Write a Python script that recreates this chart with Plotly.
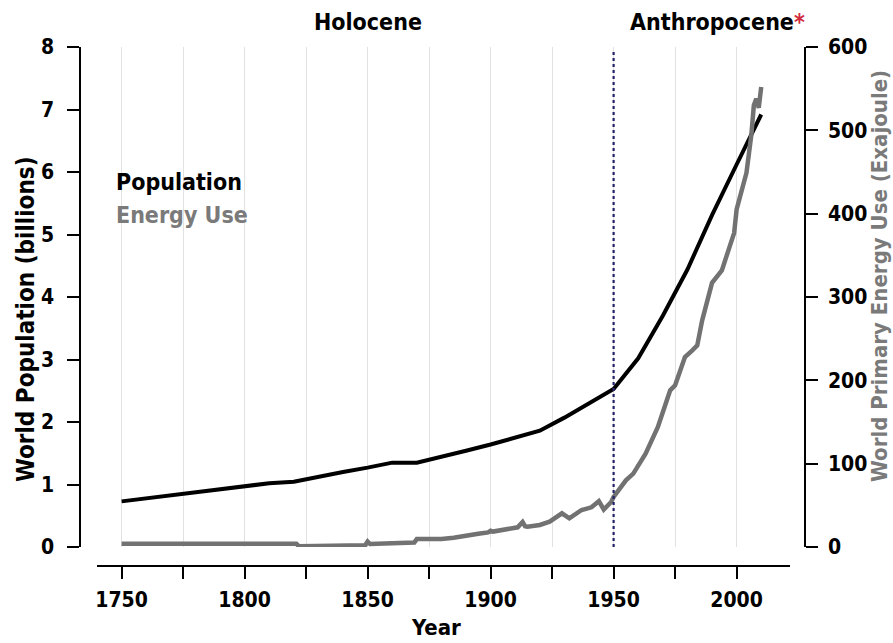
import plotly.graph_objects as go

# ---- data ----
pop_years = [1750, 1775, 1800, 1810, 1820, 1830, 1840, 1850, 1860, 1870, 1880, 1890,
             1900, 1910, 1920, 1930, 1940, 1950, 1960, 1970, 1980, 1990, 2000, 2010]
pop_billions = [0.73, 0.85, 0.96, 1.02, 1.045, 1.13, 1.2, 1.27, 1.35, 1.35, 1.44, 1.54,
                1.64, 1.75, 1.86, 2.07, 2.3, 2.53, 3.02, 3.7, 4.44, 5.31, 6.12, 6.92]

energy_years = [1750, 1780, 1800, 1820, 1821, 1822, 1830, 1840, 1849, 1850, 1851, 1860,
                1869, 1870, 1875, 1880, 1885, 1889, 1890, 1891, 1895, 1899, 1900, 1901,
                1906, 1911, 1913, 1914, 1915, 1920, 1924, 1929, 1932, 1937, 1941, 1944,
                1946, 1949, 1950, 1952, 1955, 1958, 1963, 1968, 1973, 1975, 1979, 1982,
                1984, 1986, 1990, 1994, 1999, 2000, 2004, 2006, 2007, 2008, 2009, 2010]
energy_ej = [4, 4, 4, 4, 4, 1, 1.2, 1.6, 2.0, 6.5, 3.5, 4.5,
             5.5, 9.5, 9, 9.5, 11, 13, 14.5, 14, 16, 17.5, 19.5, 18.5,
             21, 23.6, 30, 25, 24.4, 26.4, 30.4, 40.4, 34.4, 44.4, 47.6, 55,
             45, 54, 60, 68, 80, 88, 112, 144, 188, 194, 228, 236,
             242, 272, 317, 332, 377, 405, 449, 495, 530, 538, 527, 552]

x_tick_vals = [1750, 1800, 1850, 1900, 1950, 2000]
left_ticks = [0, 1, 2, 3, 4, 5, 6, 7, 8]
right_ticks = [0, 100, 200, 300, 400, 500, 600]
boundary_year = 1950

FONT = "DejaVu Sans Condensed, Liberation Sans Narrow, sans-serif"
BLACK = "#000000"
GREY = "#727272"
GRID = "#e2e2e2"

fig = go.Figure()
fig.add_trace(go.Scatter(x=pop_years, y=pop_billions, mode="lines",
                         line=dict(color=BLACK, width=4), yaxis="y", showlegend=False))
fig.add_trace(go.Scatter(x=energy_years, y=energy_ej, mode="lines",
                         line=dict(color=GREY, width=4.5), yaxis="y2", showlegend=False))

W, H = 893, 643
ml, mr, mt, mb = 80, 88, 47, 77
pw, ph = W - ml - mr, H - mt - mb


def px_x(p):
    return (p - ml) / pw


def px_y(p):
    return (H - mb - p) / ph


tick_font = dict(family=FONT, size=21, color=BLACK, weight="bold")

fig.update_layout(
    width=W, height=H,
    margin=dict(l=ml, r=mr, t=mt, b=mb, pad=0),
    paper_bgcolor="white", plot_bgcolor="white",
    font=dict(family=FONT, size=20, color=BLACK),
    xaxis=dict(
        domain=[px_x(97), px_x(790)], range=[1740, 2021.7],
        anchor="free", position=0,
        tickvals=x_tick_vals, ticks="outside", ticklen=12, tickwidth=1.5, tickcolor=BLACK,
        showline=True, linecolor=BLACK, linewidth=1.5,
        showgrid=True, gridcolor=GRID, gridwidth=1,
        minor=dict(dtick=25, tick0=1750, ticks="outside", ticklen=12, tickwidth=1.5,
                   tickcolor=BLACK, showgrid=True, gridcolor=GRID, gridwidth=1),
        tickfont=tick_font, ticklabelstandoff=3, zeroline=False,
    ),
    yaxis=dict(
        domain=[px_y(547), 1], range=[0, 8], anchor="free", position=0,
        tickvals=left_ticks, ticks="outside", ticklen=12, tickwidth=1.5, tickcolor=BLACK,
        showline=True, linecolor=BLACK, linewidth=1.5, showgrid=False, zeroline=False,
        tickfont=tick_font, ticklabelstandoff=9,
    ),
    yaxis2=dict(
        domain=[px_y(547), 1], range=[0, 600], anchor="free", position=1,
        overlaying="y", side="right",
        tickvals=right_ticks, ticks="outside", ticklen=12, tickwidth=1.5, tickcolor=BLACK,
        showline=True, linecolor=BLACK, linewidth=1.5, showgrid=False, zeroline=False,
        tickfont=tick_font, ticklabelstandoff=6,
    ),
)

# boundary between epochs
fig.add_shape(type="line", x0=boundary_year, x1=boundary_year, xref="x",
              y0=px_y(547), y1=px_y(49), yref="paper",
              line=dict(color="#23236a", width=2.2, dash="dot"))

# white box behind the legend text (hides gridlines)
fig.add_shape(type="rect", xref="paper", yref="paper",
              x0=px_x(100), x1=px_x(241), y0=px_y(240), y1=px_y(153),
              fillcolor="white", line=dict(width=0), layer="between")

ann_font = dict(family=FONT, size=23, weight="bold")
fig.add_annotation(text="Population", xref="paper", yref="paper", x=px_x(114), y=px_y(182),
                   xanchor="left", yanchor="middle", showarrow=False,
                   font=dict(ann_font, color=BLACK))
fig.add_annotation(text="Energy Use", xref="paper", yref="paper", x=px_x(114), y=px_y(215),
                   xanchor="left", yanchor="middle", showarrow=False,
                   font=dict(ann_font, color="#7a7a7a"))

# epoch titles
fig.add_annotation(text="Holocene", xref="x", yref="paper", x=1850, y=px_y(22),
                   xanchor="center", yanchor="middle", showarrow=False,
                   font=dict(family=FONT, size=23, weight="bold", color=BLACK))
fig.add_annotation(text="Anthropocene<span style='color:#d2283c'>*</span>", xref="paper",
                   yref="paper", x=px_x(628), y=px_y(22),
                   xanchor="left", yanchor="middle", showarrow=False,
                   font=dict(family=FONT, size=23, weight="bold", color=BLACK))

# axis titles
fig.add_annotation(text="World Population (billions)", xref="paper", yref="paper",
                   x=px_x(26), y=px_y(484), textangle=-90, showarrow=False,
                   xanchor="center", yanchor="bottom",
                   font=dict(family=FONT, size=24, weight="bold", color=BLACK))
fig.add_annotation(text="World Primary Energy Use (Exajoule)", xref="paper", yref="paper",
                   x=px_x(879), y=px_y(484), textangle=-90, showarrow=False,
                   xanchor="center", yanchor="bottom",
                   font=dict(family=FONT, size=22, weight="bold", color="#7a7a7a"))
fig.add_annotation(text="Year", xref="paper", yref="paper",
                   x=px_x(436), y=px_y(627), showarrow=False,
                   xanchor="center", yanchor="middle",
                   font=dict(family=FONT, size=22, weight="bold", color=BLACK))

fig.write_html("out.html", config={"displayModeBar": False},
               post_script="document.body.style.margin='0px';")
